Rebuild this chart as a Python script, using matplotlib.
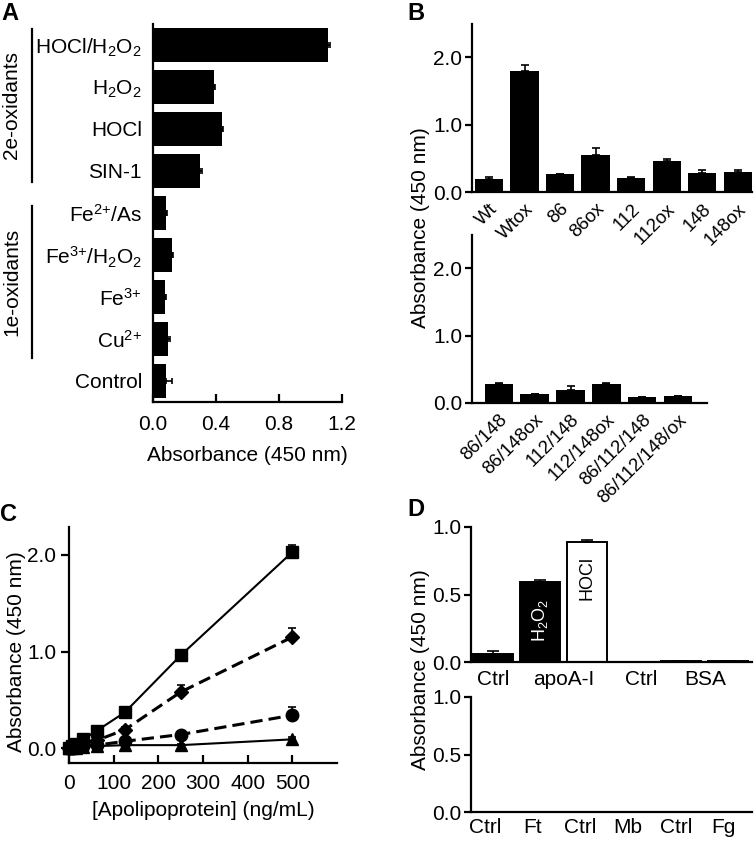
import matplotlib
matplotlib.use("Agg")
import matplotlib.pyplot as plt
import matplotlib.transforms as mtransforms
from matplotlib.lines import Line2D
import numpy as np

plt.rcParams['font.family'] = ['Liberation Sans', 'DejaVu Sans']
plt.rcParams['mathtext.fontset'] = 'custom'
plt.rcParams['mathtext.rm'] = 'Liberation Sans'
plt.rcParams['mathtext.it'] = 'Liberation Sans:italic'
plt.rcParams['mathtext.bf'] = 'Liberation Sans:bold'
plt.rcParams['mathtext.default'] = 'regular'
plt.rcParams['axes.linewidth'] = 1.6

# ---------------- data ----------------
# Panel A
a_labels = [r'HOCl/H$_2$O$_2$', r'H$_2$O$_2$', 'HOCl', 'SIN-1',
            r'Fe$^{2{+}}$/As', r'Fe$^{3{+}}$/H$_2$O$_2$', r'Fe$^{3{+}}$', r'Cu$^{2{+}}$', 'Control']
a_values = [1.11, 0.39, 0.44, 0.30, 0.085, 0.12, 0.075, 0.095, 0.083]
a_errors = [0.012, 0.005, 0.006, 0.012, 0.005, 0.005, 0.005, 0.015, 0.036]
a_groups = ['2e-oxidants', '1e-oxidants']
a_ticks = [0.0, 0.4, 0.8, 1.2]

# Panel B
b_top_labels = ['Wt', 'Wtox', '86', '86ox', '112', '112ox', '148', '148ox']
b_top_values = [0.20, 1.79, 0.26, 0.55, 0.21, 0.46, 0.28, 0.30]
b_top_errors = [0.02, 0.09, 0.01, 0.10, 0.01, 0.03, 0.05, 0.03]
b_bot_labels = ['86/148', '86/148ox', '112/148', '112/148ox', '86/112/148', '86/112/148/ox']
b_bot_values = [0.28, 0.13, 0.20, 0.28, 0.09, 0.10]
b_bot_errors = [0.01, 0.01, 0.05, 0.01, 0.005, 0.01]
b_ticks = [0.0, 1.0, 2.0]

# Panel C
c_conc = [0, 7.8, 15.6, 31.25, 62.5, 125, 250, 500]
c_square = [0.0, 0.02, 0.04, 0.09, 0.18, 0.37, 0.96, 2.03]
c_square_err = [0.01, 0.01, 0.01, 0.02, 0.03, 0.03, 0.06, 0.07]
c_diamond = [0.0, 0.01, 0.02, 0.04, 0.08, 0.19, 0.58, 1.15]
c_diamond_err = [0.01, 0.01, 0.01, 0.01, 0.02, 0.03, 0.07, 0.09]
c_circle = [0.0, 0.005, 0.01, 0.02, 0.03, 0.07, 0.14, 0.34]
c_circle_err = [0.01, 0.01, 0.01, 0.01, 0.01, 0.02, 0.04, 0.09]
c_triangle = [0.0, 0.0, 0.005, 0.01, 0.02, 0.03, 0.03, 0.09]
c_triangle_err = [0.005, 0.005, 0.005, 0.005, 0.005, 0.01, 0.01, 0.02]
c_xticks = [0, 100, 200, 300, 400, 500]
c_yticks = [0.0, 1.0, 2.0]

# Panel D
d_top_values = [0.062, 0.595, 0.886, 0.002, 0.008, 0.005]
d_top_errors = [0.023, 0.012, 0.02, 0.001, 0.003, 0.002]
d_top_fill = ['black', 'black', 'white', 'black', 'black', 'black']
d_top_bar_text = ['', r'H$_2$O$_2$', 'HOCl', '', '', '']
d_top_labels = ['Ctrl', 'apoA-I', 'Ctrl', 'BSA']
d_bot_labels = ['Ctrl', 'Ft', 'Ctrl', 'Mb', 'Ctrl', 'Fg']
d_bot_values = [0.002, 0.004, 0.004, 0.003, 0.002, 0.005]
d_yticks = [0.0, 0.5, 1.0]

# ---------------- figure ----------------
W, H = 756, 844
fig = plt.figure(figsize=(W / 100, H / 100), dpi=100)


def ax_px(left, right, top, bottom):
    ax = fig.add_axes([left / W, 1 - bottom / H, (right - left) / W, (bottom - top) / H])
    ax.patch.set_visible(False)
    return ax


FS = 15

def style(ax):
    for s in ['top', 'right']:
        ax.spines[s].set_visible(False)
    ax.tick_params(labelsize=FS, width=1.6)


# ---- Panel A ----
axA = ax_px(153, 342, 24, 402)
style(axA)
ya = np.arange(len(a_labels))
axA.barh(ya, a_values, height=0.82, color='black')
axA.errorbar(a_values, ya, xerr=[np.zeros(len(a_errors)), a_errors], fmt='none',
             ecolor='black', elinewidth=1.2, capsize=2, capthick=1.2)
axA.set_ylim(len(a_labels) - 0.5, -0.5)
axA.set_xlim(0, 1.2)
axA.set_xticks(a_ticks)
axA.set_xticklabels([f'{t:.1f}' for t in a_ticks])
axA.set_yticks(ya)
axA.set_yticklabels(a_labels, fontsize=FS)
axA.tick_params(axis='y', length=0, pad=8)
axA.tick_params(axis='x', direction='in', length=6, pad=9)
axA.set_xlabel('Absorbance (450 nm)', fontsize=FS, labelpad=9)
trA = mtransforms.blended_transform_factory(axA.transAxes, axA.transData)
xg = (32 - 153) / 189
for (y0, y1), name in zip([(-0.38, 3.26), (3.83, 7.45)], a_groups):
    axA.add_line(Line2D([xg, xg], [y0, y1], transform=trA, color='black', lw=1.6, clip_on=False))
    axA.text((12 - 153) / 189, (y0 + y1) / 2, name, transform=trA, rotation=90,
             ha='center', va='center', fontsize=FS)

# ---- Panel B top ----
axB1 = ax_px(472, 752, 24, 192)
style(axB1)
xb = np.arange(len(b_top_labels))
axB1.bar(xb, b_top_values, width=0.8, color='black')
axB1.errorbar(xb, b_top_values, yerr=[np.zeros(len(xb)), b_top_errors], fmt='none',
              ecolor='black', elinewidth=1.2, capsize=3, capthick=1.2)
axB1.set_xlim(-0.48, 7.4)
axB1.set_ylim(0, 2.49)
axB1.set_yticks(b_ticks)
axB1.set_yticklabels([f'{t:.1f}' for t in b_ticks])
axB1.set_xticks(xb)
axB1.set_xticklabels(b_top_labels, rotation=45, ha='right', rotation_mode='anchor', fontsize=13.5)
axB1.tick_params(axis='x', length=0, pad=6)
axB1.tick_params(axis='y', length=5, pad=2)

# ---- Panel B bottom ----
axB2 = ax_px(472, 707, 235, 403)
style(axB2)
xb2 = np.arange(len(b_bot_labels))
axB2.bar(xb2, b_bot_values, width=0.8, color='black')
axB2.errorbar(xb2, b_bot_values, yerr=[np.zeros(len(xb2)), b_bot_errors], fmt='none',
              ecolor='black', elinewidth=1.2, capsize=3, capthick=1.2)
axB2.set_xlim(-0.75, 5.81)
axB2.set_ylim(0, 2.49)
axB2.set_yticks(b_ticks)
axB2.set_yticklabels([f'{t:.1f}' for t in b_ticks])
axB2.set_xticks(xb2)
axB2.set_xticklabels(b_bot_labels, rotation=45, ha='right', rotation_mode='anchor', fontsize=13.5)
axB2.tick_params(axis='x', length=0, pad=6)
axB2.tick_params(axis='y', length=5, pad=2)
fig.text(420 / W, 1 - 228 / H, 'Absorbance (450 nm)', rotation=90, ha='center', va='center', fontsize=FS)

# ---- Panel C ----
axC = ax_px(69, 337, 527, 763)
style(axC)
series = [
    (c_square, c_square_err, 's', '-', 8),
    (c_diamond, c_diamond_err, 'D', (0, (4, 2)), 7),
    (c_circle, c_circle_err, 'o', (0, (4, 2)), 9),
    (c_triangle, c_triangle_err, '^', '-', 8.5),
]
for vals, errs, mk, ls, ms in series:
    lw = 1.5 if ls == '-' else 2.2
    axC.errorbar(c_conc, vals, yerr=[np.zeros(len(errs)), errs], color='black', marker=mk,
                 markersize=ms, linestyle=ls, linewidth=lw, elinewidth=1.2, capsize=3,
                 capthick=1.2, clip_on=False)
axC.set_xlim(0, 600)
axC.set_ylim(-0.155, 2.29)
axC.set_xticks(c_xticks)
axC.set_yticks(c_yticks)
axC.set_yticklabels([f'{t:.1f}' for t in c_yticks])
axC.tick_params(axis='x', direction='in', length=6, pad=8)
axC.tick_params(axis='y', length=6, pad=3)
axC.set_xlabel('[Apolipoprotein] (ng/mL)', fontsize=FS, labelpad=6)
fig.text(17 / W, 1 - 652 / H, 'Absorbance (450 nm)', rotation=90, ha='center', va='center', fontsize=FS)

# ---- Panel D top ----
axD1 = ax_px(471, 752, 527, 662)
style(axD1)
d_pos = [0, 1, 2, 3.15, 4, 5]
axD1.bar(d_pos, d_top_values, width=0.85, color=d_top_fill, edgecolor='black', linewidth=1.4)
axD1.errorbar(d_pos, d_top_values, yerr=[np.zeros(len(d_pos)), d_top_errors], fmt='none',
              ecolor='black', elinewidth=1.2, capsize=4, capthick=1.2)
for p, v, t, c in zip(d_pos, d_top_values, d_top_bar_text, d_top_fill):
    if t:
        axD1.text(p, v * 0.52 if c == 'black' else v * 0.7, t, rotation=90, ha='center', va='center',
                  fontsize=13, color='white' if c == 'black' else 'black')
axD1.set_xlim(-0.47, 5.5)
axD1.set_ylim(0, 1.0)
axD1.set_yticks(d_yticks)
axD1.set_yticklabels([f'{t:.1f}' for t in d_yticks])
axD1.set_xticks([0, 1.5, 3.15, 4.5])
axD1.set_xticklabels(d_top_labels)
axD1.tick_params(axis='x', length=0, pad=6)
axD1.tick_params(axis='y', length=5, pad=2)

# ---- Panel D bottom ----
axD2 = ax_px(471, 752, 697, 812)
style(axD2)
xd2 = np.arange(len(d_bot_labels))
axD2.bar(xd2, d_bot_values, width=0.85, color='black')
axD2.set_xlim(-0.3, 5.6)
axD2.set_ylim(0, 1.0)
axD2.set_yticks(d_yticks)
axD2.set_yticklabels([f'{t:.1f}' for t in d_yticks])
axD2.set_xticks(xd2)
axD2.set_xticklabels(d_bot_labels)
axD2.tick_params(axis='x', length=0, pad=4)
axD2.tick_params(axis='y', length=5, pad=2)
fig.text(420 / W, 1 - 670 / H, 'Absorbance (450 nm)', rotation=90, ha='center', va='center', fontsize=FS)

# ---- panel letters ----
for lx, ly, letter in [(1, 2, 'A'), (407, 2, 'B'), (0, 503, 'C'), (407, 498, 'D')]:
    fig.text(lx / W, 1 - ly / H, letter, ha='left', va='top', fontsize=17, fontweight='bold')

fig.savefig('out.png', dpi=100)
